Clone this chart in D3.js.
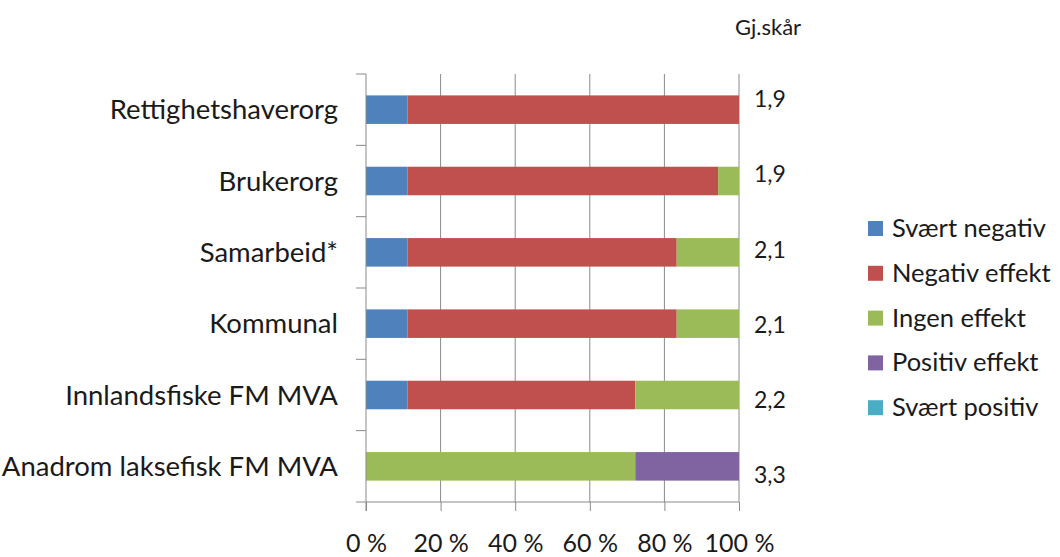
<!DOCTYPE html>
<html>
<head>
<meta charset="utf-8">
<script src="https://cdn.jsdelivr.net/npm/d3@7"></script>
<style>
  body { margin: 0; background: #fff; }
  text { font-family: Lato, "Open Sans", sans-serif; fill: #1a1a1a; }
</style>
</head>
<body>
<svg id="chart" width="1060" height="557"></svg>
<script>
// categories, top to bottom
var categories = ['Rettighetshaverorg', 'Brukerorg', 'Samarbeid*', 'Kommunal',
  'Innlandsfiske FM MVA', 'Anadrom laksefisk FM MVA'];

// series (percent of answers per category)
var seriesNames = ['Svært negativ', 'Negativ effekt', 'Ingen effekt', 'Positiv effekt', 'Svært positiv'];
var sværtNegativ  = [11.1, 11.1, 11.1, 11.1, 11.1, 0];
var negativEffekt = [88.9, 83.3, 72.2, 72.2, 61.1, 0];
var ingenEffekt   = [0, 5.6, 16.7, 16.7, 27.8, 72.2];
var positivEffekt = [0, 0, 0, 0, 0, 27.8];
var sværtPositiv  = [0, 0, 0, 0, 0, 0];

// average score column
var scores = ['1,9', '1,9', '2,1', '2,1', '2,2', '3,3'];
var scoreTitle = 'Gj.skår';

var xTicks = [0, 20, 40, 60, 80, 100];
var colors = ['#4f81bd', '#c0504d', '#9bbb59', '#8064a2', '#4bacc6'];

var svg = d3.select('#chart');
var plotLeft = 366, plotRight = 739, plotTop = 74, plotBottom = 502;

var x = d3.scaleLinear().domain([0, 100]).range([plotLeft, plotRight]);
var y = d3.scaleBand().domain(categories).range([plotTop, plotBottom]).paddingInner(0.6).paddingOuter(0.3);
var yTicks = d3.scaleBand().domain(categories).range([plotTop, plotBottom]);

// build stacked rows
var table = categories.map(function(c, i) {
  return {cat: c, 'Svært negativ': sværtNegativ[i], 'Negativ effekt': negativEffekt[i],
    'Ingen effekt': ingenEffekt[i], 'Positiv effekt': positivEffekt[i], 'Svært positiv': sværtPositiv[i]};
});
var stacked = d3.stack().keys(seriesNames)(table);

// vertical gridlines
svg.append('g').selectAll('line').data(xTicks.slice(1)).enter()
  .append('line')
  .attr('x1', function(d) { return x(d); })
  .attr('x2', function(d) { return x(d); })
  .attr('y1', plotTop).attr('y2', plotBottom)
  .attr('stroke', '#8a8a8a').attr('stroke-width', 1);

// bars
svg.append('g').selectAll('g').data(stacked).enter()
  .append('g')
  .attr('fill', function(d, i) { return colors[i]; })
  .selectAll('rect').data(function(d) { return d; }).enter()
  .append('rect')
  .attr('x', function(d) { return x(d[0]); })
  .attr('width', function(d) { return x(d[1]) - x(d[0]); })
  .attr('y', function(d) { return y(d.data.cat); })
  .attr('height', y.bandwidth());

// x axis
var xAxis = svg.append('g').attr('transform', 'translate(0,' + plotBottom + ')')
  .call(d3.axisBottom(x).tickValues(xTicks).tickSize(9).tickSizeOuter(0)
    .tickFormat(function(d) { return d + ' %'; }));
xAxis.select('.domain').remove();
xAxis.append('line').attr('x1', plotLeft - 10).attr('x2', plotRight).attr('stroke', '#8a8a8a');
xAxis.selectAll('.tick line').attr('stroke', '#8a8a8a');
xAxis.selectAll('.tick text').attr('y', 41).attr('dy', '0.35em').attr('font-size', 25)
  .attr('fill', '#1a1a1a').attr('font-family', 'Lato, sans-serif');

// y axis line and band ticks
svg.append('line').attr('x1', plotLeft).attr('x2', plotLeft).attr('y1', plotTop).attr('y2', plotBottom + 9)
  .attr('stroke', '#8a8a8a');
svg.append('g').selectAll('line').data(categories).enter()
  .append('line')
  .attr('x1', plotLeft - 10).attr('x2', plotLeft)
  .attr('y1', function(d) { return yTicks(d); })
  .attr('y2', function(d) { return yTicks(d); })
  .attr('stroke', '#8a8a8a');

// category labels
svg.append('g').selectAll('text').data(categories).enter()
  .append('text')
  .attr('x', 338)
  .attr('y', function(d) { return y(d) + y.bandwidth() / 2; })
  .attr('dy', '0.35em')
  .attr('text-anchor', 'end')
  .attr('font-size', 27.5)
  .text(function(d) { return d; });

// average score column
var ys = d3.scaleBand().domain(categories).range([61.4, 512.8]);
svg.append('text').attr('x', 735).attr('y', 27).attr('dy', '0.35em')
  .attr('font-size', 22).text(scoreTitle);
svg.append('g').selectAll('text').data(scores).enter()
  .append('text')
  .attr('x', 754)
  .attr('y', function(d, i) { return ys(categories[i]) + ys.bandwidth() / 2; })
  .attr('dy', '0.35em')
  .attr('font-size', 23)
  .text(function(d) { return d; });

// legend
var legend = svg.append('g').selectAll('g').data(seriesNames).enter()
  .append('g')
  .attr('transform', function(d, i) { return 'translate(868,' + (228 + i * 44.8) + ')'; });
legend.append('rect').attr('x', 0).attr('y', -7).attr('width', 15).attr('height', 15)
  .attr('fill', function(d, i) { return colors[i]; });
legend.append('text').attr('x', 24).attr('dy', '0.35em').attr('font-size', 25.5)
  .text(function(d) { return d; });
</script>
</body>
</html>
